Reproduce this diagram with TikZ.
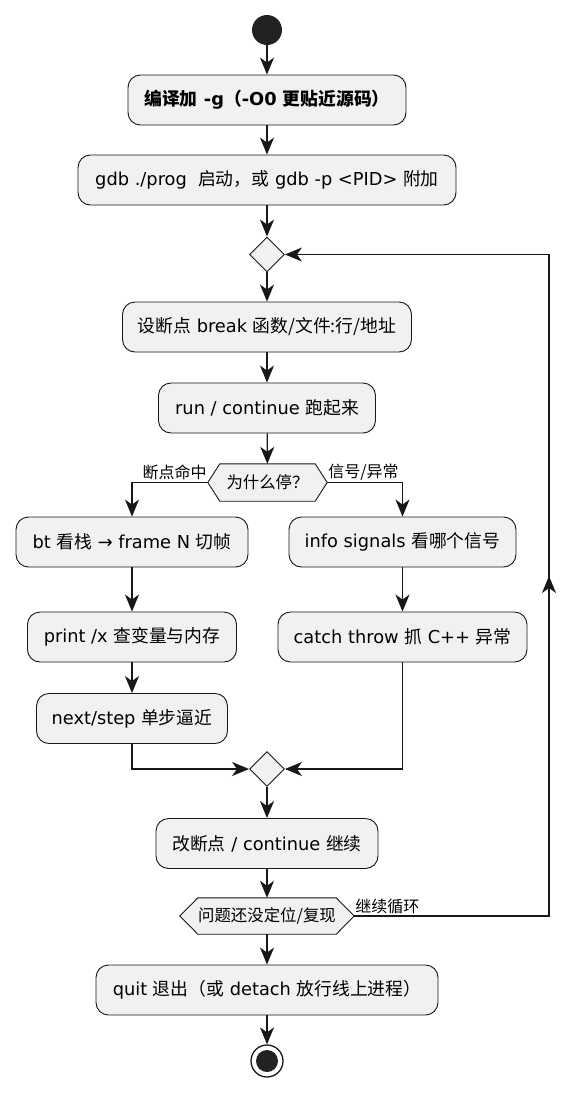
\documentclass[tikz,border=0pt]{standalone}
\usepackage{fontspec}
\setmainfont{DejaVu Sans}
\newfontfamily\cjk{Noto Sans CJK SC}
\newcommand\zh[1]{{\cjk #1}}
\usetikzlibrary{arrows.meta,shapes.geometric}
\definecolor{boxfill}{HTML}{F1F1F1}
\definecolor{linec}{HTML}{181818}
\definecolor{dotc}{HTML}{222222}
\pgfdeclarelayer{bg}
\pgfsetlayers{bg,main}
\tikzset{
  act/.style={draw=linec, fill=boxfill, line width=0.9pt, rounded corners=12.5pt,
    minimum height=50pt, inner xsep=4pt, font=\fontsize{17.8pt}{21pt}\selectfont},
  merge/.style={diamond, draw=linec, fill=boxfill, line width=0.9pt, minimum width=35pt,
    minimum height=35pt, inner sep=0pt, aspect=1},
  hexbox/.style={inner sep=0pt, font=\fontsize{16.4pt}{19pt}\selectfont},
  hexline/.style={draw=linec, fill=boxfill, line width=0.9pt},
  lbl/.style={inner sep=1pt, font=\fontsize{16pt}{19pt}\selectfont},
  flow/.style={draw=linec, line width=1.3pt, -{Stealth[length=17pt,width=14pt,inset=5pt]}},
}
\begin{document}
\begin{tikzpicture}[x=1pt,y=-1pt]
\useasboundingbox (0,0) rectangle (586,1093);
\begin{pgfonlayer}{bg}
\fill[white] (0,0) rectangle (586,1093);
\end{pgfonlayer}
% nodes
\node[circle, fill=dotc, minimum size=30pt, inner sep=0pt] (start) at (267,30) {};
\node[act, minimum width=278pt, font=\fontsize{17.8pt}{21pt}\selectfont\bfseries] (b1) at (267,100) {\zh{编译加} -g\zh{（}-O0 \zh{更贴近源码）}};
\node[act, minimum width=378pt] (b2) at (267,180) {gdb ./prog\ \ \zh{启动，或} gdb -p <PID> \zh{附加}};
\node[merge] (d1) at (267,254.5) {};
\node[act, minimum width=289pt] (b3) at (267,327) {\zh{设断点} break \zh{函数/文件:行/地址}};
\node[act, minimum width=217pt] (b4) at (267,408) {run / continue \zh{跑起来}};
\node[hexbox, minimum width=119pt, minimum height=37pt] (h1) at (267.5,482.5) {\zh{为什么停？}};
\node[act, minimum width=232pt] (b5l) at (132,542) {bt \zh{看栈} → frame N \zh{切帧}};
\node[act, minimum width=227pt] (b5r) at (402.5,542) {info signals \zh{看哪个信号}};
\node[act, minimum width=209pt] (b6l) at (132,637) {print /x \zh{查变量与内存}};
\node[act, minimum width=249pt] (b6r) at (402.5,637) {catch throw \zh{抓} C++ \zh{异常}};
\node[act, minimum width=191pt] (b7l) at (132,718.5) {next/step \zh{单步逼近}};
\node[merge] (d2) at (267,769) {};
\node[act, minimum width=222pt] (b8) at (267,843.5) {\zh{改断点} / continue \zh{继续}};
\node[hexbox, minimum width=174pt, minimum height=36pt] (h2) at (267,916) {\zh{问题还没定位/复现}};
\node[act, minimum width=342pt] (b9) at (267,990) {quit \zh{退出（或} detach \zh{放行线上进程）}};
\node[circle, draw=linec, fill=white, line width=1.3pt, minimum size=32pt, inner sep=0pt] (end) at (267,1061) {};
\fill[dotc] (end.center) circle (11pt);
% hexagons
\begin{pgfonlayer}{bg}
\path[hexline] (h1.west) -- ([xshift=12pt]h1.north west) -- ([xshift=-12pt]h1.north east) -- (h1.east)
  -- ([xshift=-12pt]h1.south east) -- ([xshift=12pt]h1.south west) -- cycle;
\path[hexline] (h2.west) -- ([xshift=18pt]h2.north west) -- ([xshift=-18pt]h2.north east) -- (h2.east)
  -- ([xshift=-18pt]h2.south east) -- ([xshift=18pt]h2.south west) -- cycle;
\end{pgfonlayer}
% labels
\node[lbl, anchor=south east] (lhit) at ([yshift=1pt]h1.west) {\zh{断点命中}};
\node[lbl, anchor=south west] (lsig) at ([yshift=1pt]h1.east) {\zh{信号/异常}};
\node[lbl, anchor=south west] (lloop) at ([yshift=1pt]h2.east) {\zh{继续循环}};
% connectors
\draw[flow] (start) -- (b1);
\draw[flow] (b1) -- (b2);
\draw[flow] (b2) -- (d1);
\draw[flow] (d1) -- (b3);
\draw[flow] (b3) -- (b4);
\draw[flow] (b4) -- (h1);
\draw[flow] (h1.west) -| (b5l.north);
\draw[flow] (h1.east) -| (b5r.north);
\draw[flow] (b5l) -- (b6l);
\draw[flow] (b6l) -- (b7l);
\draw[flow] (b5r) -- (b6r);
\draw[flow] (b7l.south) |- (d2.west);
\draw[flow] (b6r.south) |- (d2.east);
\draw[flow] (d2) -- (b8);
\draw[flow] (b8) -- (h2);
\draw[flow] (h2) -- (b9);
\draw[flow] (b9) -- (end);
\coordinate (c1) at (549,916);
\coordinate (c2) at (549,254.5);
\coordinate (cm) at (549,576);
\draw[flow] (h2.east) -- (c1) -- (c2) -- (d1.east);
\draw[flow] (c1) -- (cm);
\end{tikzpicture}
\end{document}
